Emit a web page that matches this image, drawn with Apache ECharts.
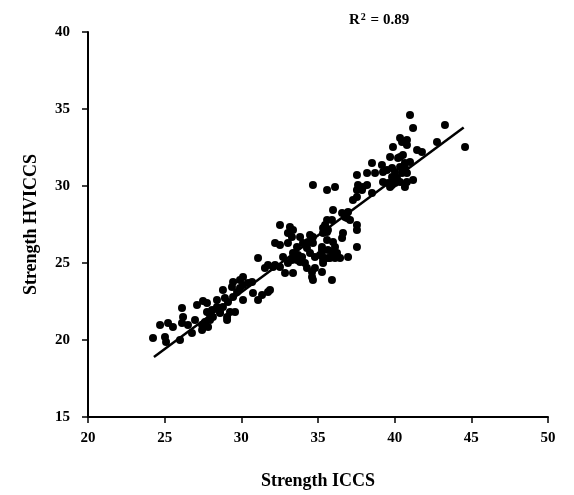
<!DOCTYPE html>
<html><head><meta charset="utf-8">
<script src="https://cdn.jsdelivr.net/npm/echarts@6/dist/echarts.min.js"></script>
<style>html,body{margin:0;padding:0;background:#fff}#c{width:574px;height:495px}</style>
</head><body><div id="c"></div>
<script>
var xValues = [24.24,24.70,25.22,25.54,25.02,25.09,26.00,26.13,26.20,26.13,26.52,26.78,27.11,26.98,27.44,27.76,28.09,28.41,28.61,27.96,28.15,28.80,29.07,
27.50,27.76,27.96,27.63,27.44,27.83,28.41,28.61,29.26,29.59,29.07,28.93,29.13,29.46,30.11,28.80,29.39,29.46,29.91,30.11,29.72,29.91,30.11,30.44,30.70,30.76,31.09,31.35,31.74,31.87,31.09,31.74,32.20,32.52,32.72,32.85,
32.52,33.17,33.37,33.04,33.30,33.83,34.48,34.67,34.35,34.67,35.46,35.91,36.57,35.33,35.59,35.98,36.11,36.24,35.91,32.20,32.52,33.04,33.63,34.02,34.28,33.37,33.70,33.96,33.63,33.83,34.15,33.50,33.30,34.48,34.80,35.13,35.26,35.33,35.65,36.44,33.04,32.07,31.54,34.28,34.61,34.80,35.26,33.37,34.61,34.67,35.91,
35.59,36.63,36.57,37.54,37.54,35.26,35.65,35.26,35.78,36.11,35.33,36.96,
34.67,35.59,36.11,35.98,36.96,36.89,36.76,37.09,35.59,35.33,35.65,37.54,37.28,37.61,37.93,37.54,37.87,38.20,37.54,38.52,37.54,38.20,38.52,38.72,39.17,39.24,39.50,39.83,40.02,40.35,40.67,40.48,40.80,39.83,40.15,39.24,39.57,39.83,39.89,40.48,40.80,39.70,40.35,
41.00,41.20,43.28,42.76,44.59,40.35,40.80,41.46,41.78,40.54,40.22,41.00,40.67,41.20,40.80,40.35,40.02,40.67,39.70];
var yValues = [20.13,20.97,21.10,20.84,20.19,19.87,20.00,22.08,21.49,21.10,20.97,20.45,22.27,21.30,20.65,22.40,21.95,22.14,21.75,21.30,21.49,22.14,21.49,
22.53,21.82,21.62,21.17,20.97,20.84,22.60,21.82,21.82,21.82,21.30,22.73,22.47,22.79,22.60,23.25,23.44,23.77,23.90,24.09,23.12,23.38,23.57,23.70,23.77,23.05,22.60,22.92,23.12,23.25,25.32,24.87,24.87,24.74,25.39,24.35,
27.47,27.34,27.14,26.95,26.69,26.69,26.82,26.69,26.36,26.30,27.47,27.79,28.25,26.95,26.49,26.36,26.04,25.65,25.71,26.30,26.17,26.30,26.04,26.30,25.97,25.65,25.52,25.39,25.19,25.06,25.00,25.32,25.19,25.65,25.39,25.52,25.84,25.19,25.32,25.32,25.00,24.74,24.68,24.68,24.42,24.68,24.42,24.35,24.09,23.90,23.90,
27.01,26.95,26.62,27.14,26.04,26.04,25.84,25.52,25.32,25.32,25.00,25.39,
30.06,29.74,29.94,28.44,28.31,27.92,27.99,27.79,27.79,27.27,27.14,27.47,29.09,30.06,29.94,29.74,29.74,30.06,29.29,29.55,30.71,30.84,31.49,30.84,31.36,30.91,31.04,31.17,30.91,31.23,31.17,30.84,30.84,30.58,30.52,30.26,30.19,30.06,32.53,32.86,32.66,31.88,31.88,
34.61,33.77,33.96,32.86,32.53,33.12,32.99,32.34,32.21,32.01,31.82,31.56,31.49,30.39,30.26,30.26,30.19,29.94,29.94];
var fitX = [24.3, 44.5];
var fitY = [18.9, 33.8];
var xTicks = [20, 25, 30, 35, 40, 45, 50];
var yTicks = [15, 20, 25, 30, 35, 40];
var rSquared = '0.89';

var pts = xValues.map(function(x, i){ return [x, yValues[i]]; });
var fitLine = fitX.map(function(x, i){ return [x, fitY[i]]; });
var font = '"Liberation Serif", "Times New Roman", serif';
var chart = echarts.init(document.getElementById('c'), null, {renderer: 'canvas'});
chart.setOption({
  animation: false,
  backgroundColor: '#fff',
  title: {
    text: 'R{sup|2} = ' + rSquared,
    left: 344, top: 7,
    textStyle: {
      fontFamily: font, fontWeight: 'bold', fontSize: 15, color: '#000',
      rich: { sup: { fontFamily: font, fontWeight: 'bold', fontSize: 10, color: '#000', verticalAlign: 'top', padding: [0,1,7,1] } }
    }
  },
  grid: { left: 88, right: 26, top: 32, bottom: 78, containLabel: false },
  xAxis: {
    type: 'value', min: xTicks[0], max: xTicks[xTicks.length-1], interval: 5,
    name: 'Strength ICCS', nameLocation: 'middle', nameGap: 55,
    nameTextStyle: { fontFamily: font, fontWeight: 'bold', fontSize: 18, color: '#000' },
    axisLine: { show: true, onZero: false, lineStyle: { color: '#000', width: 2 } },
    axisTick: { show: true, inside: false, length: 6, lineStyle: { color: '#000', width: 1.5 } },
    axisLabel: { margin: 14, fontFamily: font, fontWeight: 'bold', fontSize: 15, color: '#000' },
    splitLine: { show: false }
  },
  yAxis: {
    type: 'value', min: yTicks[0], max: yTicks[yTicks.length-1], interval: 5,
    name: 'Strength HVICCS', nameLocation: 'middle', nameGap: 48,
    nameTextStyle: { fontFamily: font, fontWeight: 'bold', fontSize: 18, color: '#000' },
    axisLine: { show: true, onZero: false, lineStyle: { color: '#000', width: 2 } },
    axisTick: { show: true, inside: false, length: 6, lineStyle: { color: '#000', width: 1.5 } },
    axisLabel: { margin: 18, fontFamily: font, fontWeight: 'bold', fontSize: 15, color: '#000' },
    splitLine: { show: false }
  },
  series: [
    { type: 'scatter', data: pts, symbol: 'circle', symbolSize: 8, itemStyle: { color: '#000', opacity: 1 }, z: 2 },
    { type: 'line', data: fitLine, symbol: 'none', lineStyle: { color: '#000', width: 2.5 }, z: 3 }
  ]
});
</script></body></html>
